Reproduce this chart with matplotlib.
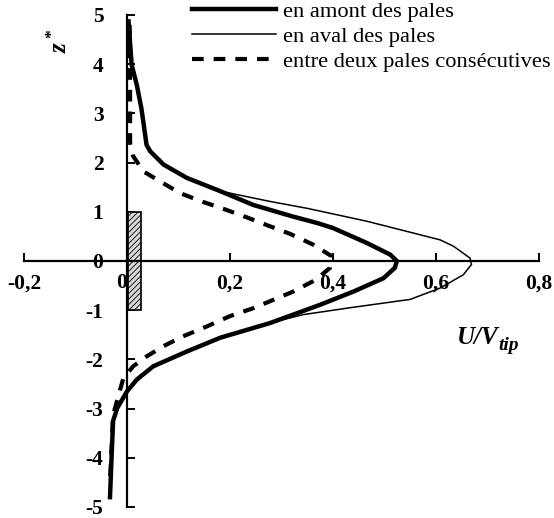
import numpy as np
import matplotlib.pyplot as plt
from matplotlib.patches import Rectangle

plt.rcParams['font.family'] = 'Liberation Serif'
plt.rcParams['axes.unicode_minus'] = False
plt.rcParams['mathtext.fontset'] = 'custom'
plt.rcParams['mathtext.it'] = 'Liberation Serif:italic:bold'
plt.rcParams['mathtext.rm'] = 'Liberation Serif:bold'
plt.rcParams['hatch.linewidth'] = 0.6

# profils de vitesse U/Vtip en fonction de z*
z_amont = [4.87, 3.99, 3.58, 3.1, 2.36, 2.23, 1.96, 1.69, 1.42, 1.14, 0.91, 0.77, 0.67, 0.37, 0.13, 0.0,
           -0.14, -0.35, -0.62, -0.89, -1.26, -1.56, -1.84, -2.14, -2.41, -2.65, -2.99, -3.25, -4.0, -4.8]
u_amont = [0.003, 0.009, 0.019, 0.028, 0.038, 0.045, 0.071, 0.116, 0.181, 0.245, 0.32, 0.37, 0.40, 0.465, 0.511, 0.524,
           0.52, 0.498, 0.44, 0.375, 0.278, 0.181, 0.116, 0.051, 0.019, 0.0, -0.019, -0.027, -0.03, -0.033]

z_aval = [4.87, 3.99, 3.58, 3.1, 2.36, 2.23, 1.96, 1.69, 1.42, 1.21, 1.07, 0.81, 0.43, 0.30, 0.06,
          -0.07, -0.28, -0.55, -0.78, -0.95, -1.09, -1.3, -1.56, -1.84, -2.14, -2.41, -2.65, -2.99, -3.25, -4.0, -4.8]
u_aval = [0.003, 0.009, 0.019, 0.028, 0.038, 0.045, 0.071, 0.116, 0.181, 0.278, 0.35, 0.465, 0.608, 0.634, 0.666,
          0.669, 0.653, 0.608, 0.55, 0.433, 0.342, 0.262, 0.181, 0.116, 0.051, 0.019, 0.0, -0.019, -0.027, -0.03, -0.033]

z_entre = [4.8, 3.4, 2.4, 2.13, 1.82, 1.62, 1.38, 1.21, 1.05, 0.89, 0.72, 0.55, 0.33, 0.1, -0.14,
           -0.38, -0.62, -0.79, -0.96, -1.12, -1.33, -1.53, -1.73, -1.94, -2.14, -2.38, -2.64, -3.13, -4.47]
u_entre = [0.005, 0.006, 0.006, 0.012, 0.032, 0.064, 0.103, 0.145, 0.19, 0.232, 0.274, 0.317, 0.362, 0.397, 0.394,
           0.367, 0.323, 0.284, 0.245, 0.2, 0.155, 0.109, 0.071, 0.038, 0.012, -0.007, -0.014, -0.027, -0.033]

# position de la pale
pale_u = (0.002, 0.027)
pale_z = (-1, 1)

xticks = [-0.2, 0, 0.2, 0.4, 0.6, 0.8]
xlabels = ['-0,2', '0', '0,2', '0,4', '0,6', '0,8']
yticks = [-5, -4, -3, -2, -1, 0, 1, 2, 3, 4, 5]

W, H = 554, 518
fig = plt.figure(figsize=(W / 100, H / 100), dpi=100)
ax = fig.add_axes([24 / W, 1 - 507 / H, (539 - 24) / W, (507 - 15) / H])

ax.add_patch(Rectangle((pale_u[0], pale_z[0]), pale_u[1] - pale_u[0], pale_z[1] - pale_z[0],
                       facecolor='#d8d8d8', edgecolor='black', hatch='//////', lw=1.2, zorder=2))

l1, = ax.plot(u_amont, z_amont, color='black', lw=3.2, zorder=4, label='en amont des pales')
l2, = ax.plot(u_aval, z_aval, color='black', lw=1.1, zorder=3, label='en aval des pales')
l3, = ax.plot(u_entre, z_entre, color='black', lw=3, dashes=(2.8, 2.4), zorder=3,
              label='entre deux pales consécutives')

ax.set_xlim(-0.2, 0.8)
ax.set_ylim(-5, 5)

for s in ['top', 'right']:
    ax.spines[s].set_visible(False)
ax.spines['left'].set_position(('data', 0))
ax.spines['bottom'].set_position(('data', 0))
ax.spines['left'].set_linewidth(1.6)
ax.spines['bottom'].set_linewidth(1.6)
ax.spines['left'].set_zorder(5)

ax.set_xticks(xticks)
ax.set_xticklabels(xlabels)
ax.set_yticks(yticks)
ax.tick_params(axis='x', direction='in', length=6, width=1.4, pad=9, labelsize=15.5)
ax.tick_params(axis='y', direction='in', length=6, width=1.4, pad=17, labelsize=15.5)
for t in ax.get_xticklabels() + ax.get_yticklabels():
    t.set_fontweight('bold')
ax.get_xticklabels()[1].set_ha('right')
ax.get_yticklabels()[5].set_bbox(dict(facecolor='white', edgecolor='none', pad=1))

fig.text(60 / W, 1 - 41 / H, r'$z^*$', rotation=90, fontsize=18, ha='center', va='center')
fig.text(457 / W, 1 - 337 / H, 'U/V', fontsize=18, fontweight='bold', fontstyle='italic',
         ha='left', va='center')
fig.text(498 / W, 1 - 346 / H, 'tip', fontsize=14, fontweight='bold', fontstyle='italic',
         ha='left', va='center')

fig.legend(handles=[l1, l2, l3], loc='upper left', bbox_to_anchor=(192 / W, 1 - 1 / H),
           frameon=False, fontsize=16.2, handlelength=3.75, handletextpad=0.3,
           labelspacing=0.2, borderpad=0, borderaxespad=0)

fig.savefig('out.png', dpi=100)
